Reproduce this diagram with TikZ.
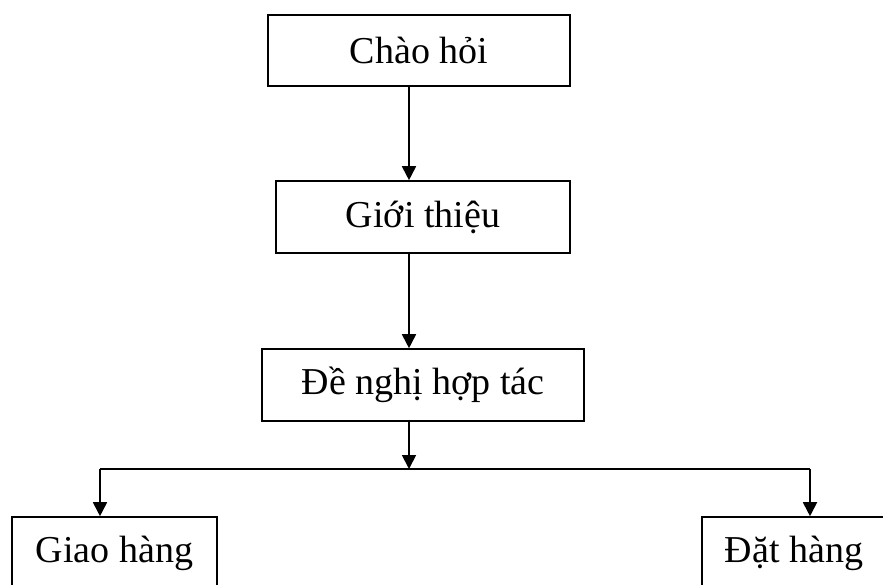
\documentclass[tikz,border=0pt]{standalone}
\usepackage{fontspec}
\setmainfont{Liberation Serif}
\usetikzlibrary{arrows.meta}
\begin{document}
\begin{tikzpicture}[x=1pt,y=-1pt,
  box/.style={draw=black, line width=1.6pt, rectangle, inner sep=0pt, font=\fontsize{38}{44}\selectfont},
  conn/.style={line width=1.8pt, -{Triangle[length=14pt,width=14pt]}},
  plain/.style={line width=1.8pt}]
\clip (0,0) rectangle (883,584);
\useasboundingbox (0,0) rectangle (883,584);
\node[box, minimum width=302pt, minimum height=71pt] (b1) at (419,50.5) {Chào hỏi};
\node[box, minimum width=294pt, minimum height=72pt] (b2) at (423,217) {Giới thiệu};
\node[box, minimum width=322pt, minimum height=72pt] (b3) at (423,385) {Đề nghị hợp tác};
\node[box, minimum width=205pt, minimum height=72pt] (b4) at (114.5,553) {Giao hàng};
\node[box, minimum width=184pt, minimum height=72pt] (b5) at (794,553) {Đặt hàng};
\coordinate (sp) at (409,0);
\coordinate (j) at (409,469);
\coordinate (l) at (100,469);
\coordinate (r) at (810,469);
\draw[conn] (b1.south -| sp) -- (b2.north -| sp);
\draw[conn] (b2.south -| sp) -- (b3.north -| sp);
\draw[conn] (b3.south -| sp) -- (j);
\draw[plain] (l) -- (r);
\draw[conn] (l) -- (b4.north -| l);
\draw[conn] (r) -- (b5.north -| r);
\end{tikzpicture}
\end{document}
